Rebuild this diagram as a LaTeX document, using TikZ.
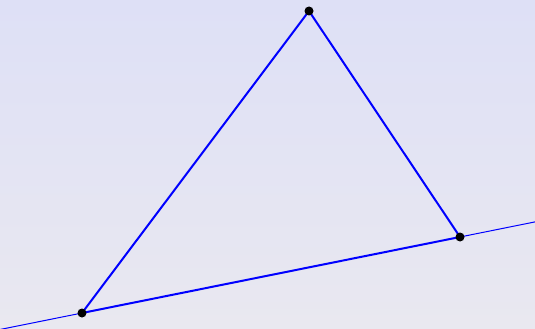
\documentclass[tikz,border=0pt]{standalone}
\usepackage{tikz}
\usetikzlibrary{calc,backgrounds}
\definecolor{bgtop}{RGB}{222,224,246}
\definecolor{bgbottom}{RGB}{233,232,240}
\tikzset{
  pt/.style={circle, fill=black, inner sep=0pt, minimum size=9pt},
  side/.style={blue, line width=2pt},
  thinline/.style={blue, line width=1pt}
}

\begin{document}
\begin{tikzpicture}[x=1pt, y=-1pt]
  \useasboundingbox (0,0) rectangle (535,329);

  \coordinate (L) at (0, 329.5);
  \coordinate (R) at (535, 221.9);
  \node[pt] (A) at (82, 313) {};
  \node[pt] (B) at (309, 11) {};
  \node[pt] (C) at (460, 237) {};

  \begin{scope}[on background layer]
    % background
    \shade[top color=bgtop, bottom color=bgbottom] (0,0) rectangle (535,329);
    % extended line through A and C
    \draw[thinline] (L) -- (A.center);
    \draw[thinline] (C.center) -- (R);
    % triangle
    \draw[side] (A.center) -- (B.center) -- (C.center) -- cycle;
  \end{scope}
\end{tikzpicture}
\end{document}
